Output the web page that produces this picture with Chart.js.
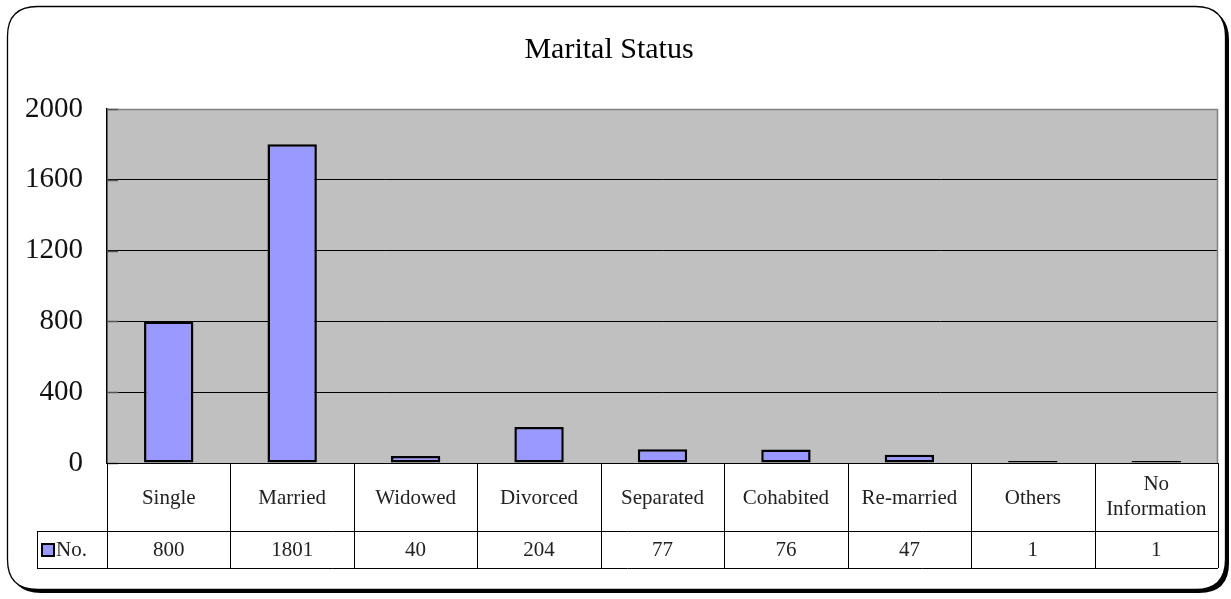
<!DOCTYPE html>
<html>
<head>
<meta charset="utf-8">
<script src="https://cdn.jsdelivr.net/npm/chart.js@4/dist/chart.umd.min.js"></script>
<style>
html,body{margin:0;padding:0;background:#fff;}
#wrap{width:1231px;height:599px;position:relative;}
</style>
</head>
<body>
<div id="wrap"><canvas id="c" width="1231" height="599"></canvas></div>
<script>
const categories = ['Single','Married','Widowed','Divorced','Separated','Cohabited','Re-married','Others',['No','Information']];
const values = [800, 1801, 40, 204, 77, 76, 47, 1, 1];
const seriesName = 'No.';
const chartTitle = 'Marital Status';
const yTicks = [0, 400, 800, 1200, 1600, 2000];

const SERIF = '"Liberation Serif", "Times New Roman", serif';
const BAR_FILL = '#9999FF';

function roundRect(ctx, x, y, w, h, r) {
  ctx.beginPath();
  ctx.moveTo(x + r, y);
  ctx.lineTo(x + w - r, y);
  ctx.quadraticCurveTo(x + w, y, x + w, y + r);
  ctx.lineTo(x + w, y + h - r);
  ctx.quadraticCurveTo(x + w, y + h, x + w - r, y + h);
  ctx.lineTo(x + r, y + h);
  ctx.quadraticCurveTo(x, y + h, x, y + h - r);
  ctx.lineTo(x, y + r);
  ctx.quadraticCurveTo(x, y, x + r, y);
  ctx.closePath();
}

const framePlugin = {
  id: 'frame',
  beforeDraw(chart) {
    const ctx = chart.ctx;
    ctx.save();
    ctx.fillStyle = '#fff';
    ctx.fillRect(0, 0, chart.width, chart.height);
    ctx.fillStyle = '#000';
    roundRect(ctx, 11, 10, 1218, 583, 30);
    ctx.fill();
    ctx.fillStyle = '#fff';
    roundRect(ctx, 7.5, 6.5, 1218, 583, 30);
    ctx.fill();
    ctx.strokeStyle = '#000';
    ctx.lineWidth = 1.3;
    ctx.stroke();
    ctx.restore();
  }
};

const tablePlugin = {
  id: 'dataTable',
  afterDraw(chart) {
    const ctx = chart.ctx;
    const a = chart.chartArea;
    const x = chart.scales.x;
    const n = categories.length;
    const w = (a.right - a.left) / n;
    const top = a.bottom;
    const mid = top + 68;
    const bot = top + 105;
    const legLeft = 37;
    ctx.save();
    ctx.strokeStyle = '#808080';
    ctx.lineWidth = 1.5;
    ctx.beginPath();
    ctx.moveTo(a.left, a.top + 0.5);
    ctx.lineTo(a.right - 0.5, a.top + 0.5);
    ctx.lineTo(a.right - 0.5, a.bottom);
    ctx.stroke();

    ctx.strokeStyle = '#555';
    ctx.lineWidth = 1.5;
    ctx.beginPath();
    const ys = chart.scales.y;
    yTicks.forEach(v => {
      const py = Math.round(ys.getPixelForValue(v)) + 0.5;
      ctx.moveTo(a.left, py); ctx.lineTo(a.left + 11, py);
    });
    ctx.stroke();

    ctx.strokeStyle = '#000';
    ctx.lineWidth = 1;
    ctx.beginPath();
    ctx.moveTo(a.left, top + 0.5); ctx.lineTo(a.right, top + 0.5);
    ctx.moveTo(legLeft, mid + 0.5); ctx.lineTo(a.right, mid + 0.5);
    ctx.moveTo(legLeft, bot + 0.5); ctx.lineTo(a.right, bot + 0.5);
    for (let i = 0; i <= n; i++) {
      const px = Math.round(a.left + i * w) + 0.5;
      ctx.moveTo(px, top); ctx.lineTo(px, bot);
    }
    ctx.moveTo(legLeft + 0.5, mid); ctx.lineTo(legLeft + 0.5, bot);
    ctx.stroke();

    ctx.fillStyle = '#222';
    ctx.font = '21px ' + SERIF;
    ctx.textAlign = 'center';
    ctx.textBaseline = 'middle';
    for (let i = 0; i < n; i++) {
      const cx = x.getPixelForValue(i);
      const lab = categories[i];
      if (Array.isArray(lab)) {
        const lh = 25;
        const y0 = (top + mid) / 2 - (lab.length - 1) * lh / 2;
        lab.forEach((t, k) => ctx.fillText(t, cx, y0 + k * lh));
      } else {
        ctx.fillText(lab, cx, (top + mid) / 2 + 1);
      }
      ctx.fillText(String(values[i]), cx, (mid + bot) / 2 + 1);
    }
    ctx.fillStyle = BAR_FILL;
    ctx.fillRect(42, 544, 12, 12);
    ctx.strokeStyle = '#000';
    ctx.lineWidth = 2;
    ctx.strokeRect(42, 544, 12, 12);
    ctx.fillStyle = '#222';
    ctx.textAlign = 'left';
    ctx.fillText(seriesName, 56, (mid + bot) / 2 + 1);
    ctx.restore();
  }
};

const plotBg = {
  id: 'plotBg',
  beforeDraw(chart) {
    const a = chart.chartArea;
    const ctx = chart.ctx;
    ctx.save();
    ctx.fillStyle = '#C0C0C0';
    ctx.fillRect(a.left, a.top, a.right - a.left, a.bottom - a.top);
    ctx.restore();
  }
};

new Chart(document.getElementById('c'), {
  type: 'bar',
  data: {
    labels: categories,
    datasets: [{
      label: seriesName,
      data: values,
      backgroundColor: BAR_FILL,
      borderColor: '#000',
      borderWidth: 2.5,
      borderSkipped: false,
      barPercentage: 0.4,
      categoryPercentage: 1.0,
      minBarLength: 2
    }]
  },
  options: {
    responsive: false,
    animation: false,
    devicePixelRatio: 1,
    layout: { padding: { top: 0, right: 13, bottom: 136, left: 0 } },
    plugins: {
      legend: { display: false },
      tooltip: { enabled: false },
      title: {
        display: true,
        text: chartTitle,
        color: '#000',
        font: { family: SERIF, size: 30, weight: 'normal' },
        padding: { top: 32, bottom: 41 }
      }
    },
    scales: {
      x: { display: false, offset: true },
      y: {
        min: 0, max: 2000,
        afterFit(s) { s.width = 107; },
        afterBuildTicks(s) { s.ticks = yTicks.map(v => ({ value: v })); },
        ticks: {
          color: '#111',
          font: { family: SERIF, size: 29 },
          padding: 24,
          callback: v => String(v)
        },
        grid: {
          color: ctx => (ctx.tick && ctx.tick.value === 2000) ? 'rgba(0,0,0,0)' : '#000',
          lineWidth: 1,
          drawTicks: false
        },
        border: { color: '#000', width: 1.5 }
      }
    }
  },
  plugins: [framePlugin, plotBg, tablePlugin]
});
</script>
</body>
</html>
